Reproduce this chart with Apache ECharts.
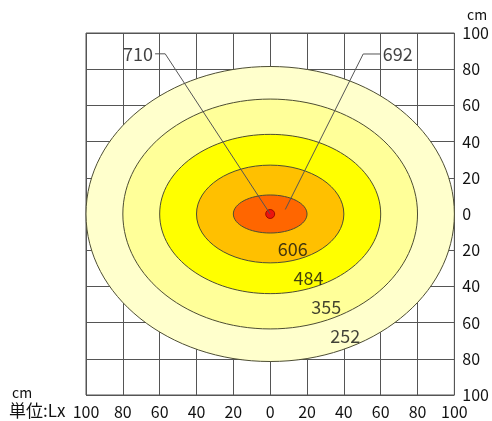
<!DOCTYPE html>
<html>
<head>
<meta charset="utf-8">
<script src="https://cdn.jsdelivr.net/npm/echarts@6/dist/echarts.min.js"></script>
<style>
html, body { margin: 0; padding: 0; background: #fff; }
#chart { width: 492px; height: 421px; }
</style>
</head>
<body>
<div id="chart"></div>
<script>
// 照度分布 (Lx) - 等照度楕円
const luxLevels = [252, 355, 484, 606, 692];
const radiusX = [100, 80, 60, 40, 20];      // cm
const radiusY = [81.5, 63.5, 44, 27, 10.5]; // cm
const maxLux = 710;

// 等照度ラベル位置 (cm) : 252, 355, 484, 606
const contourLabelX = [40.8, 30.5, 20.8, 12.2];
const contourLabelY = [-67.5, -51.2, -35.5, -19.6];

// 引き出し線 (cm)
const leader710 = [[-62.5, 88.5], [-57, 88.5], [0, 0]];
const leader692 = [[60, 88.4], [50.5, 88.4], [8.2, 2.5]];

const axisMin = -100;
const axisMax = 100;
const axisStep = 20;

const fillColors = ['#ffffcc', '#ffff99', '#ffff00', '#ffc000', '#ff6600'];
const font = '"Noto Sans CJK JP", sans-serif';

const chart = echarts.init(document.getElementById('chart'));

const option = {
    animation: false,
    textStyle: { fontFamily: font },
    grid: {
        left: 86,
        top: 33,
        width: 370,
        height: 362,
        show: true,
        borderColor: '#555',
        borderWidth: 1
    },
    xAxis: {
        type: 'value',
        min: axisMin,
        max: axisMax,
        interval: axisStep,
        axisLine: { show: false },
        axisTick: { show: false },
        splitLine: { show: true, lineStyle: { color: '#555', width: 1 } },
        axisLabel: {
            margin: 9,
            fontSize: 16,
            color: '#111',
            fontFamily: font,
            formatter: v => Math.abs(v)
        }
    },
    yAxis: {
        type: 'value',
        position: 'right',
        min: axisMin,
        max: axisMax,
        interval: axisStep,
        axisLine: { show: false },
        axisTick: { show: false },
        splitLine: { show: true, lineStyle: { color: '#555', width: 1 } },
        axisLabel: {
            margin: 8,
            fontSize: 16,
            color: '#111',
            fontFamily: font,
            formatter: v => Math.abs(v)
        }
    },
    graphic: [
        { type: 'text', left: 467, top: 8, style: { text: 'cm', font: '14px ' + font, fill: '#111' } },
        { type: 'text', left: 12, top: 386, style: { text: 'cm', font: '14px ' + font, fill: '#111' } },
        { type: 'text', left: 9, top: 402, style: { text: '単位:Lx', font: '17px ' + font, fill: '#111' } }
    ],
    series: [
        {
            type: 'custom',
            silent: true,
            data: luxLevels.map((v, i) => [0, 0, radiusX[i], radiusY[i], v]),
            renderItem: (params, api) => {
                const c = api.coord([api.value(0), api.value(1)]);
                const s = api.size([api.value(2), api.value(3)]);
                return {
                    type: 'ellipse',
                    shape: { cx: c[0], cy: c[1], rx: s[0], ry: s[1] },
                    style: {
                        fill: fillColors[params.dataIndex],
                        stroke: '#4d4d33',
                        lineWidth: 1
                    }
                };
            }
        },
        {
            type: 'line',
            data: leader710,
            symbol: 'none',
            lineStyle: { color: '#555', width: 1 }
        },
        {
            type: 'line',
            data: leader692,
            symbol: 'none',
            lineStyle: { color: '#555', width: 1 }
        },
        {
            type: 'scatter',
            data: [[0, 0, maxLux]],
            symbolSize: 9,
            itemStyle: { color: '#e60012', borderColor: '#8a0000', borderWidth: 1 }
        },
        {
            type: 'scatter',
            symbolSize: 0,
            data: [
                { value: [leader710[0][0], leader710[0][1]], label: { position: 'left', formatter: String(maxLux) } },
                { value: [leader692[0][0], leader692[0][1]], label: { position: 'right', formatter: String(luxLevels[4]) } }
            ],
            label: {
                show: true,
                distance: 2,
                fontSize: 18,
                color: '#111',
                fontFamily: font
            }
        },
        {
            type: 'scatter',
            symbolSize: 0,
            data: contourLabelX.map((x, i) => [x, contourLabelY[i], luxLevels[i]]),
            label: {
                show: true,
                position: 'inside',
                fontSize: 18,
                color: '#111',
                fontFamily: font,
                formatter: p => p.value[2]
            }
        }
    ]
};

chart.setOption(option);
</script>
</body>
</html>
